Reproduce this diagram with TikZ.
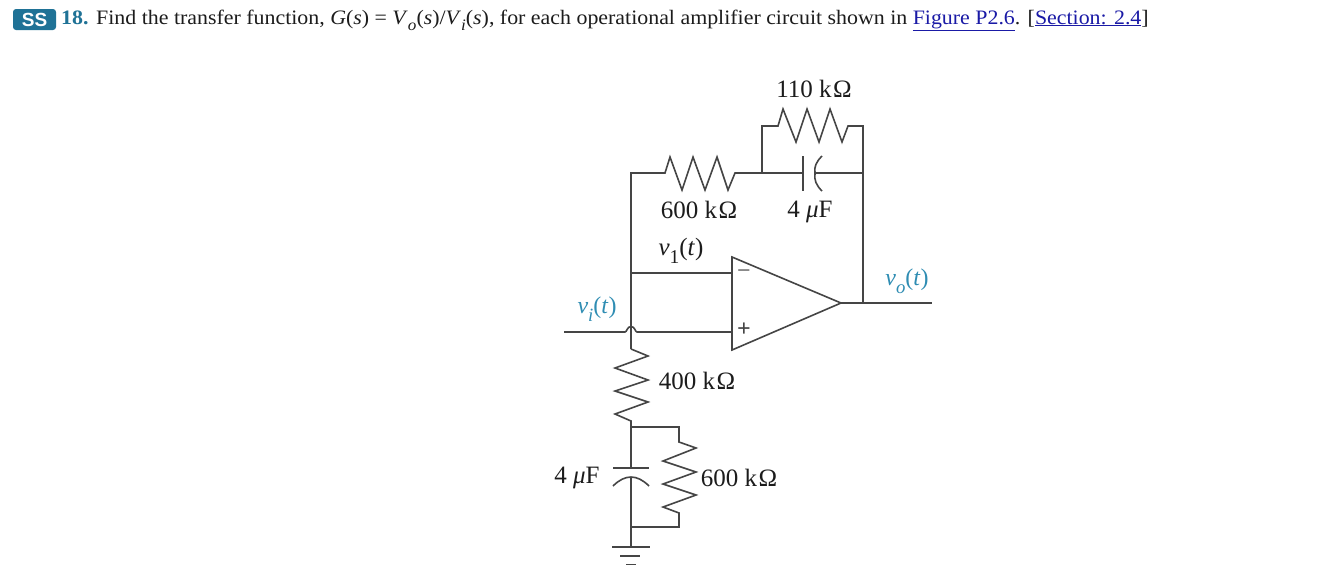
\documentclass[tikz,border=0pt]{standalone}
\usepackage{fontspec}
\setmainfont{Liberation Serif}
\newfontfamily\headfont[FakeStretch=1.068]{Liberation Serif}
\newfontfamily\badgefont{Liberation Sans}
\definecolor{wire}{HTML}{454545}
\definecolor{tealvolt}{HTML}{2F8DB3}
\definecolor{badge}{HTML}{1F7296}
\definecolor{linkblue}{HTML}{1A1AA6}
\definecolor{bodytext}{HTML}{1C1C1C}
\newcommand{\subs}[1]{\raisebox{-.32em}{\scalebox{.78}{#1}}}
\newcommand{\lnk}[1]{\textcolor{linkblue}{\underline{#1}}}
\newcommand{\kohm}{k\kern1.5pt Ω}
\tikzset{
  wirepath/.style={draw=wire,line width=1.6pt,line join=miter},
  lab/.style={inner sep=0pt,text=bodytext,font=\fontsize{25}{28}\selectfont},
  voltlab/.style={inner sep=0pt,text=tealvolt,font=\fontsize{24}{28}\selectfont},
  signlab/.style={inner sep=0pt,text=wire,font=\bfseries\fontsize{24}{24}\selectfont},
  headtext/.style={inner sep=0pt,anchor=base west,text=bodytext,font=\headfont\fontsize{20.5}{24}\selectfont},
}
\begin{document}
\begin{tikzpicture}[x=1pt,y=-1pt]
\useasboundingbox (0,0) rectangle (1332,587);
\fill[white] (0,0) rectangle (1332,587);

% heading
\node[fill=badge,rounded corners=3pt,minimum width=43pt,minimum height=21pt,inner sep=0pt,text=white,font=\badgefont\bfseries\fontsize{19}{20}\selectfont] (badge) at (34.5,19.5) {SS};
\node[headtext,text=badge,font=\headfont\bfseries\fontsize{20.5}{24}\selectfont] (num) at (61,24) {18.};
\node[headtext] (sentence) at (96,24) {Find the transfer function, \textit{G}(\textit{s}) = \textit{V}\subs{\textit{o}}(\textit{s})/\textit{V}\subs{\textit{i}}(\textit{s}), for each operational amplifier circuit shown in \lnk{Figure P2.6}. [\lnk{Section: 2.4}]};

% terminals and junctions
\coordinate (fbtop) at (631,173);
\coordinate (r1a) at (665,173);
\coordinate (r1b) at (735,173);
\coordinate (j1) at (762,173);
\coordinate (c1a) at (803,173);
\coordinate (c1b) at (815,173);
\coordinate (j2) at (863,173);
\coordinate (tl) at (762,126);
\coordinate (r2a) at (778,126);
\coordinate (r2b) at (848,126);
\coordinate (tr) at (863,126);
\coordinate (jout) at (863,303);
\coordinate (outend) at (932,303);
\coordinate (ampA) at (732,257);
\coordinate (ampB) at (732,350);
\coordinate (ampTip) at (841,303);
\coordinate (minusin) at (732,273);
\coordinate (jminus) at (631,273);
\coordinate (plusin) at (732,332);
\coordinate (instart) at (564,332);
\coordinate (r3a) at (631,349);
\coordinate (r3b) at (631,421);
\coordinate (j3) at (631,427);
\coordinate (c2a) at (631,468);
\coordinate (c2b) at (631,477);
\coordinate (j4) at (631,527);
\coordinate (gnd) at (631,547);
\coordinate (rc) at (679,427);
\coordinate (r4a) at (679,442);
\coordinate (r4b) at (679,513);
\coordinate (rd) at (679,527);

% feedback network
\draw[wirepath] (jminus) -- (fbtop) -- (r1a) -- ++(5,-16) -- ++(12,33) -- ++(11,-33) -- ++(12,33) -- ++(12,-33) -- ++(11,33) -- (r1b) -- (j1) -- (c1a);
\draw[wirepath] (j1) -- (tl) -- (r2a) -- ++(5,-17) -- ++(13,33) -- ++(11,-33) -- ++(12,33) -- ++(11,-33) -- ++(12,33) -- (r2b) -- (tr) -- (jout);
\draw[wirepath] (c1b) -- (j2);
\draw[wirepath] (803,156) -- (803,191);
\draw[wirepath] (822,156) .. controls (816,162) and (814,167) .. (c1b) .. controls (814,180) and (816,185) .. (822,191);

% op amp
\draw[wirepath] (ampA) -- (ampB) -- (ampTip) -- cycle;
\draw[wirepath] (ampTip) -- (outend);
\draw[wirepath] (jminus) -- (minusin);
\draw[wirepath] (instart) -- (625,332) .. controls (627,332) and (627,326.5) .. (631,326.5) .. controls (635,326.5) and (635,332) .. (637,332) -- (plusin);
\draw[wirepath] (jminus) -- (r3a);

% input leg
\draw[wirepath] (r3a) -- (648,356) -- (615,368) -- (648,380) -- (615,391) -- (648,402) -- (615,414) -- (r3b) -- (c2a);
\draw[wirepath] (613,468) -- (649,468);
\draw[wirepath] (613,486) .. controls (619,480) and (625,477) .. (c2b) .. controls (637,477) and (643,480) .. (649,486);
\draw[wirepath] (c2b) -- (gnd);
\draw[wirepath] (j3) -- (rc) -- (r4a) -- (696,448) -- (663,461) -- (696,472) -- (663,484) -- (696,495) -- (663,507) -- (r4b) -- (rd) -- (j4);

% ground
\draw[wirepath] (612,547) -- (650,547);
\draw[wirepath] (620,556) -- (640,556);
\draw[wirepath] (626,564.5) -- (636,564.5);

% labels
\node[lab] (l110) at (814,89) {110 \kohm};
\node[lab] (l600a) at (699,210) {600 \kohm};
\node[lab] (l4a) at (810,212) {4 \textit{μ}F};
\node[lab] (lv1) at (681,251) {\textit{v}\subs{1}(\textit{t})};
\node[voltlab] (lvi) at (597,309) {\textit{v}\subs{\textit{i}}(\textit{t})};
\node[voltlab] (lvo) at (907,281) {\textit{v}\subs{\textit{o}}(\textit{t})};
\node[lab] (l400) at (697,381) {400 \kohm};
\node[lab] (l4b) at (577,478) {4 \textit{μ}F};
\node[lab] (l600b) at (739,478) {600 \kohm};
\node[signlab,font=\fontsize{24}{24}\selectfont] (minus) at (744,274) {−};
\node[signlab] (plus) at (744,330) {+};
\end{tikzpicture}
\end{document}
